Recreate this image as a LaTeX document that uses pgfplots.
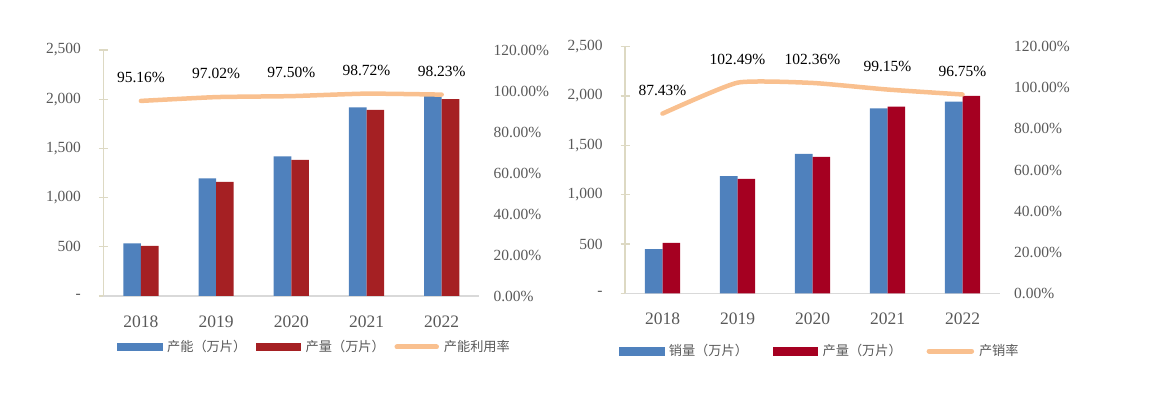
\documentclass[border=0pt]{standalone}
\usepackage{fontspec}
\setmainfont{Liberation Serif}
\newfontfamily\cjk{Noto Sans CJK SC}
\usepackage{pgfplots}
\pgfplotsset{compat=1.18}
\definecolor{cblue}{HTML}{4F81BD}
\definecolor{cred}{HTML}{A52023}
\definecolor{cred2}{HTML}{A50021}
\definecolor{corange}{HTML}{F9C08F}
\definecolor{beige}{HTML}{DDD9C3}
\definecolor{lgray}{HTML}{D9D9D9}
\definecolor{tgray}{HTML}{595959}

\pgfplotsset{
  base/.style={scale only axis, xmin=-0.5, xmax=4.5, clip=false,
    /pgf/number format/assume math mode=true},
  prim/.style={base, ymin=0, ymax=2500,
    axis x line*=bottom, axis y line*=left,
    x axis line style={draw=lgray, line width=1.3pt, -},
    y axis line style={draw=beige, line width=1.3pt, -},
    xtick={0,...,4}, xticklabels={2018,2019,2020,2021,2022},
    xtick style={draw=none},
    ytick={0,500,...,2500},
    yticklabels={{-\hspace{7.5pt}},500,{1,000},{1,500},{2,000},{2,500}},
    ytick style={draw=beige, line width=1.3pt},
    major tick length=9pt, tick align=center,
    xticklabel style={font=\fontsize{17.5}{20}\selectfont, text=tgray, anchor=center, inner sep=0pt, yshift=-21pt},
    yticklabel style={font=\fontsize{15.5}{18}\selectfont, text=tgray, anchor=east, inner sep=0pt, xshift=-17.7pt},
  },
  sec/.style={base, ymin=0, ymax=120, hide x axis,
    axis y line*=right, y axis line style={draw=none},
    ytick={0,20,...,120},
    yticklabels={0.00\%,20.00\%,40.00\%,60.00\%,80.00\%,100.00\%,120.00\%},
    ytick style={draw=none},
    yticklabel style={font=\fontsize{15.5}{18}\selectfont, text=tgray, anchor=west, inner sep=0pt, xshift=14pt},
    legend columns=3,
    legend style={draw=none, fill=none, inner sep=0pt, outer sep=0pt, anchor=west,
      nodes={inner sep=0pt, font=\cjk\fontsize{13.2}{15}\selectfont, text=tgray},
      /tikz/every odd column/.append style={column sep=4.9pt}},
    legend cell align=left,
  },
  rate/.style={forget plot, corange, line width=4.5pt, line cap=round, smooth, tension=0.3,
    nodes near coords, point meta=explicit symbolic,
    every node near coord/.append style={anchor=center, yshift=23.5pt, inner sep=0pt,
      font=\fontsize{15.5}{18}\selectfont, text=black}},
}

\pgfplotstableread{
x cap prod
0 535 510
1 1196 1160
2 1420 1383
3 1917 1892
4 2030 2001
}\lefttab
\pgfplotstableread{
x sales prod
0 447 510
1 1188 1160
2 1414 1383
3 1875 1892
4 1942 2001
}\righttab

\begin{document}
\begin{tikzpicture}
\path[use as bounding box] (0pt,0pt) rectangle (1152pt,415pt);

% ---------- left chart ----------
\begin{axis}[prim, at={(103.3pt,119pt)}, anchor=south west, width=376pt, height=246pt]
\addplot[ybar, bar width=17.6pt, bar shift=-8.8pt, fill=cblue, draw=none] table[x=x, y=cap] {\lefttab};
\addplot[ybar, bar width=17.6pt, bar shift=8.8pt, fill=cred, draw=none] table[x=x, y=prod] {\lefttab};
\end{axis}
\begin{axis}[sec, at={(103.3pt,119pt)}, anchor=south west, width=376pt, height=246pt,
  legend style={at={(0.03723,-0.2073)}}]
\addlegendimage{legend image code/.code={\fill[cblue] (0pt,-3.7pt) rectangle (44.5pt,3.7pt);}}
\addlegendentry{\makebox[88.8pt][l]{产能（万片）}}
\addlegendimage{legend image code/.code={\fill[cred] (0pt,-3.7pt) rectangle (44.5pt,3.7pt);}}
\addlegendentry{\makebox[88.8pt][l]{产量（万片）}}
\addlegendimage{legend image code/.code={\draw[corange, line width=5pt, line cap=round] (2.5pt,0pt) -- (42pt,0pt);}}
\addlegendentry{产能利用率}
\addplot[rate] coordinates {(0,95.16) [95.16\%] (1,97.02) [97.02\%] (2,97.50) [97.50\%] (3,98.72) [98.72\%] (4,98.23) [98.23\%]};
\end{axis}

% ---------- right chart ----------
\begin{axis}[prim, at={(625pt,121.7pt)}, anchor=south west, width=375pt, height=246.6pt]
\addplot[ybar, bar width=17.7pt, bar shift=-8.85pt, fill=cblue, draw=none] table[x=x, y=sales] {\righttab};
\addplot[ybar, bar width=17.7pt, bar shift=8.85pt, fill=cred2, draw=none] table[x=x, y=prod] {\righttab};
\end{axis}
\begin{axis}[sec, at={(625pt,121.7pt)}, anchor=south west, width=375pt, height=246.6pt,
  legend style={at={(-0.016,-0.234)}}]
\addlegendimage{legend image code/.code={\fill[cblue] (0pt,-3.7pt) rectangle (44.5pt,3.7pt);}}
\addlegendentry{\makebox[104pt][l]{销量（万片）}}
\addlegendimage{legend image code/.code={\fill[cred2] (0pt,-3.7pt) rectangle (44.5pt,3.7pt);}}
\addlegendentry{\makebox[104pt][l]{产量（万片）}}
\addlegendimage{legend image code/.code={\draw[corange, line width=5pt, line cap=round] (2.5pt,0pt) -- (45pt,0pt);}}
\addlegendentry{产销率}
\addplot[rate] coordinates {(0,87.43) [87.43\%] (1,102.49) [102.49\%] (2,102.36) [102.36\%] (3,99.15) [99.15\%] (4,96.75) [96.75\%]};
\end{axis}
\end{tikzpicture}
\end{document}
